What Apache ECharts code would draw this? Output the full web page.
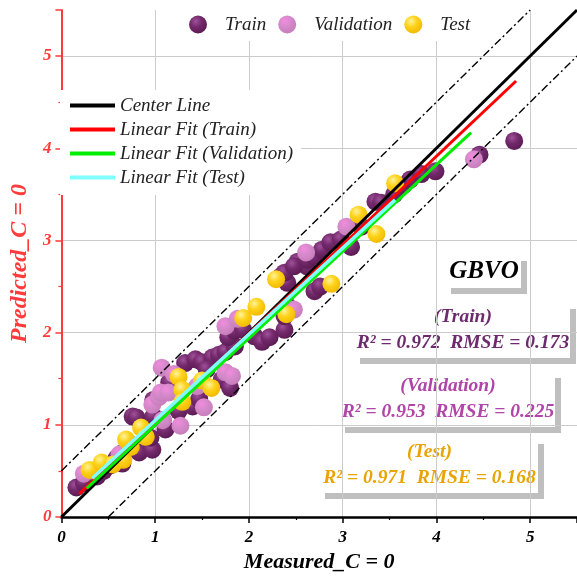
<!DOCTYPE html>
<html>
<head>
<meta charset="utf-8">
<script src="https://cdn.jsdelivr.net/npm/echarts@6/dist/echarts.min.js"></script>
<style>
  html, body { margin: 0; padding: 0; background: #fff; }
  #chart { width: 577px; height: 578px; }
</style>
</head>
<body>
<div id="chart"></div>
<script>
// Measured vs predicted values, one [measured, predicted] pair per sample
const trainPoints = [
  [0.16,0.32],[0.24,0.37],[0.38,0.44],[0.45,0.50],[0.52,0.56],[0.59,0.64],[0.66,0.70],
  [0.65,0.58],[0.72,0.80],[0.83,0.70],[0.97,0.73],[0.95,0.86],[0.88,0.98],[0.76,1.09],
  [0.80,1.08],[0.98,1.09],[1.11,0.95],[1.08,1.05],[0.98,1.27],[1.15,1.46],[1.22,1.38],
  [1.25,1.15],[1.32,1.67],[1.43,1.71],[1.50,1.68],[1.61,1.73],[1.68,1.76],[1.75,1.79],
  [1.85,1.85],[1.78,1.95],[1.85,2.02],[1.40,1.20],[1.47,1.28],[1.55,1.60],[1.71,1.49],
  [1.80,1.40],[1.94,2.03],[2.06,1.96],[2.14,1.90],[2.22,1.95],[2.38,2.03],[2.41,2.29],
  [2.38,2.18],[2.34,2.61],[2.41,2.54],[2.52,2.77],[2.62,2.72],[2.38,2.65],[2.48,2.72],
  [2.62,2.79],[2.70,2.45],[2.76,2.50],[2.69,2.83],[2.78,2.90],[2.87,2.98],[2.98,3.01],
  [3.09,2.93],[3.20,3.15],[3.35,3.42],[3.41,3.41],[3.55,3.50],[3.65,3.60],[3.72,3.66],
  [3.84,3.72],[3.99,3.75],[4.46,3.93],[4.83,4.08]
];
const validationPoints = [
  [0.24,0.47],[0.35,0.50],[0.62,0.68],[0.97,1.22],[1.08,1.05],[1.04,1.30],[1.06,1.35],
  [1.14,1.35],[1.07,1.62],[1.27,0.99],[1.52,1.19],[1.45,1.42],[1.20,1.55],[1.75,1.57],
  [1.82,1.53],[1.75,2.07],[1.88,2.15],[2.48,2.25],[2.61,2.87],[3.04,3.15],[4.40,3.88]
];
const testPoints = [
  [0.30,0.51],[0.43,0.59],[0.55,0.57],[0.66,0.62],[0.74,0.76],[0.69,0.84],[0.85,0.97],
  [0.90,0.87],[1.25,1.52],[1.29,1.38],[1.29,1.25],[1.50,1.48],[1.60,1.40],[1.94,2.16],
  [2.08,2.28],[2.29,2.58],[2.40,2.20],[2.88,2.53],[3.17,3.28],[3.36,3.07],[3.56,3.62]
];

// Reference lines: 1:1 line and the +/-0.5 band
const centerLine = [[0, 0], [5.5, 5.5]];
const upperBand = [[0, 0.5], [5, 5.5]];
const lowerBand = [[0.5, 0], [5.5, 5]];

// Endpoints of the fitted lines
const fitTrain = [[0.19, 0.25], [4.85, 4.73]];
const fitValidation = [[0.27, 0.31], [4.37, 4.17]];
const fitTest = [[0.33, 0.42], [3.56, 3.44]];

// Goodness-of-fit figures
const modelName = 'GBVO';
const setNames = ['Train', 'Validation', 'Test'];
const r2Values = ['0.972', '0.953', '0.971'];
const rmseValues = ['0.173', '0.225', '0.168'];

const axisTicks = [0, 1, 2, 3, 4, 5];

const SERIF = '"Liberation Serif", "DejaVu Serif", serif';
const RED = '#FF3B3B';

function sphere(light, mid, dark) {
  return {
    type: 'radial', x: 0.38, y: 0.32, r: 0.72,
    colorStops: [
      { offset: 0, color: light },
      { offset: 0.45, color: mid },
      { offset: 1, color: dark }
    ]
  };
}

const trainColor = sphere('#a0519a', '#742a6c', '#5a1a52');
const valColor = sphere('#f48be0', '#d68acb', '#c57db9');
const testColor = sphere('#fff39a', '#ffd21a', '#f0b800');

function scatter(name, data, color) {
  return {
    name, type: 'scatter', data, symbolSize: 18,
    itemStyle: { color, opacity: 1 },
    z: 3
  };
}

function line(name, data, color, width, type, z) {
  return {
    name, type: 'line', data, showSymbol: false, symbol: 'none',
    lineStyle: { color, width, type: type || 'solid' },
    itemStyle: { color },
    z: z || 4, silent: true
  };
}

// Annotation box with a soft grey drop shadow
function statBox(x, y, w, h, children) {
  return {
    type: 'group', left: x, top: y, z: 50,
    children: [
      { type: 'rect', shape: { x: 6, y: 6, width: w, height: h }, style: { fill: '#bfbfbf' } },
      { type: 'rect', shape: { x: 0, y: 0, width: w, height: h }, style: { fill: '#ffffff' } }
    ].concat(children)
  };
}

function boxText(x, y, text, color, size) {
  return {
    type: 'text', x, y,
    style: {
      text, fill: color, align: 'center', verticalAlign: 'middle',
      font: 'italic bold ' + size + 'px ' + SERIF
    }
  };
}

const statColors = ['#6e2a6e', '#b044a8', '#e8a400'];
const boxes = [
  { x: 354, y: 303, w: 216, h: 55 },
  { x: 339, y: 372, w: 216, h: 55 },
  { x: 319, y: 438, w: 219, h: 55 }
];

const graphics = [
  statBox(445, 255, 76, 33, [boxText(39, 17, modelName, '#000', 25)])
];
boxes.forEach((b, i) => {
  graphics.push(statBox(b.x, b.y, b.w, b.h, [
    boxText(b.w / 2 + 1, 14, '(' + setNames[i] + ')', statColors[i], 19.5),
    boxText(b.w / 2 + 1, 40, 'R\u00B2 = ' + r2Values[i] + '  RMSE = ' + rmseValues[i], statColors[i], 19.5)
  ]));
});

const chart = echarts.init(document.getElementById('chart'), null, { renderer: 'canvas' });

chart.setOption({
  animation: false,
  backgroundColor: '#fff',
  grid: { left: 54, right: 0, top: 10, bottom: 59 },
  xAxis: {
    type: 'value', min: 0, max: 5.5, interval: 1,
    name: 'Measured_C = 0', nameLocation: 'middle', nameGap: 34,
    nameTextStyle: { fontFamily: SERIF, fontStyle: 'italic', fontWeight: 'bold', fontSize: 22, color: '#000' },
    axisLine: { show: true, lineStyle: { color: '#000', width: 2.5 } },
    axisTick: { show: true, inside: false, length: 6, lineStyle: { color: '#000', width: 1.5 } },
    minorTick: { show: true, splitNumber: 2, length: 3, lineStyle: { color: '#000', width: 1.2 } },
    axisLabel: {
      showMaxLabel: false, margin: 12,
      fontFamily: SERIF, fontStyle: 'italic', fontWeight: 'bold', fontSize: 17, color: '#000',
      formatter: v => axisTicks.includes(v) ? String(v) : ''
    },
    splitLine: { show: true, showMinLine: false, showMaxLine: false, lineStyle: { color: '#cccccc', width: 1 } }
  },
  yAxis: {
    type: 'value', min: 0, max: 5.5, interval: 1,
    name: 'Predicted_C = 0', nameLocation: 'middle', nameGap: 24,
    nameTextStyle: { fontFamily: SERIF, fontStyle: 'italic', fontWeight: 'bold', fontSize: 24, color: RED },
    axisLine: { show: true, lineStyle: { color: RED, width: 2 } },
    axisTick: { show: true, inside: false, length: 6, lineStyle: { color: RED, width: 1.5 } },
    minorTick: { show: true, splitNumber: 2, length: 3, lineStyle: { color: RED, width: 1.2 } },
    axisLabel: {
      showMaxLabel: false, margin: 10,
      fontFamily: SERIF, fontStyle: 'italic', fontWeight: 'bold', fontSize: 17, color: RED,
      formatter: v => axisTicks.includes(v) ? String(v) : ''
    },
    splitLine: { show: true, showMinLine: false, showMaxLine: false, lineStyle: { color: '#cccccc', width: 1 } }
  },
  legend: [
    {
      data: ['Train', 'Validation', 'Test'],
      orient: 'horizontal', left: 160, top: 8,
      padding: [7, 12, 7, 29], itemGap: 12,
      itemWidth: 18, itemHeight: 18, icon: 'circle',
      backgroundColor: '#fff',
      textStyle: { fontFamily: SERIF, fontStyle: 'italic', fontSize: 19, color: '#222', padding: [0, 0, 0, 13] },
      z: 20
    },
    {
      data: ['Center Line', 'Linear Fit (Train)', 'Linear Fit (Validation)', 'Linear Fit (Test)'],
      orient: 'vertical', left: 60, top: 90,
      padding: [6, 8, 8, 10], itemGap: 5,
      itemWidth: 45, itemHeight: 4, icon: 'rect',
      backgroundColor: '#fff',
      textStyle: { fontFamily: SERIF, fontStyle: 'italic', fontSize: 19, color: '#222' },
      z: 20
    }
  ],
  graphic: graphics,
  series: [
    scatter('Train', trainPoints, trainColor),
    scatter('Validation', validationPoints, valColor),
    scatter('Test', testPoints, testColor),
    line('upper band', upperBand, '#000', 1.4, [8, 3, 2, 3], 5),
    line('lower band', lowerBand, '#000', 1.4, [8, 3, 2, 3], 5),
    line('Center Line', centerLine, '#000', 3, 'solid', 6),
    line('Linear Fit (Train)', fitTrain, '#ff0000', 3, 'solid', 7),
    line('Linear Fit (Validation)', fitValidation, '#00ee00', 3, 'solid', 8),
    line('Linear Fit (Test)', fitTest, '#80ffff', 3.5, 'solid', 9)
  ]
});
</script>
</body>
</html>
